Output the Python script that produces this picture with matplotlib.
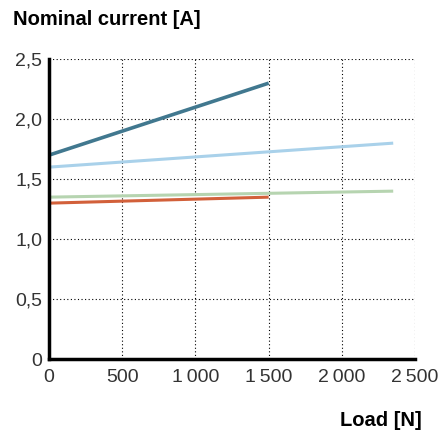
import matplotlib.pyplot as plt
from matplotlib.ticker import FuncFormatter

plt.rcParams["font.family"] = ["Liberation Sans", "DejaVu Sans"]

# ── data ──────────────────────────────────────────────────────────────────────
load_dark   = [0, 1500]
curr_dark   = [1.70, 2.30]
load_light  = [0, 2350]
curr_light  = [1.60, 1.80]
load_green  = [0, 2350]
curr_green  = [1.35, 1.40]
load_orange = [0, 1500]
curr_orange = [1.30, 1.35]

x_ticks = [0, 500, 1000, 1500, 2000, 2500]
y_ticks = [0, 0.5, 1.0, 1.5, 2.0, 2.5]

# ── plot ──────────────────────────────────────────────────────────────────────
fig = plt.figure(figsize=(4.45, 4.38), dpi=100)
ax = fig.add_axes([0.110, 0.180, 0.823, 0.685])

ax.plot(load_light,  curr_light,  color="#a9d1ea", lw=2.2, solid_capstyle="butt")
ax.plot(load_green,  curr_green,  color="#b6d4b0", lw=2.2, solid_capstyle="butt")
ax.plot(load_orange, curr_orange, color="#d2603a", lw=2.2, solid_capstyle="butt")
ax.plot(load_dark,   curr_dark,   color="#41788f", lw=2.6, solid_capstyle="butt")

ax.set_xlim(0, 2500)
ax.set_ylim(0, 2.5)
ax.set_xticks(x_ticks)
ax.set_yticks(y_ticks)
ax.xaxis.set_major_formatter(FuncFormatter(lambda v, p: f"{int(v):,}".replace(",", "\u2009") if v else "0"))
ax.yaxis.set_major_formatter(FuncFormatter(lambda v, p: "0" if v == 0 else f"{v:.1f}".replace(".", ",")))
ax.tick_params(length=0, labelsize=14, labelcolor="#333333")
ax.tick_params(axis="x", pad=7)
ax.tick_params(axis="y", pad=5)

ax.grid(True, color="black", ls=(0, (1, 2.2)), lw=0.8)
for s in ["top", "right"]:
    ax.spines[s].set_visible(False)
for s in ["left", "bottom"]:
    ax.spines[s].set_linewidth(2.5)
    ax.spines[s].set_zorder(5)

fig.text(0.03, 0.955, "Nominal current [A]", fontsize=14.5, fontweight="bold", va="center")
fig.text(0.948, 0.04, "Load [N]", fontsize=14.5, fontweight="bold", ha="right", va="center")

fig.savefig("out.png")
